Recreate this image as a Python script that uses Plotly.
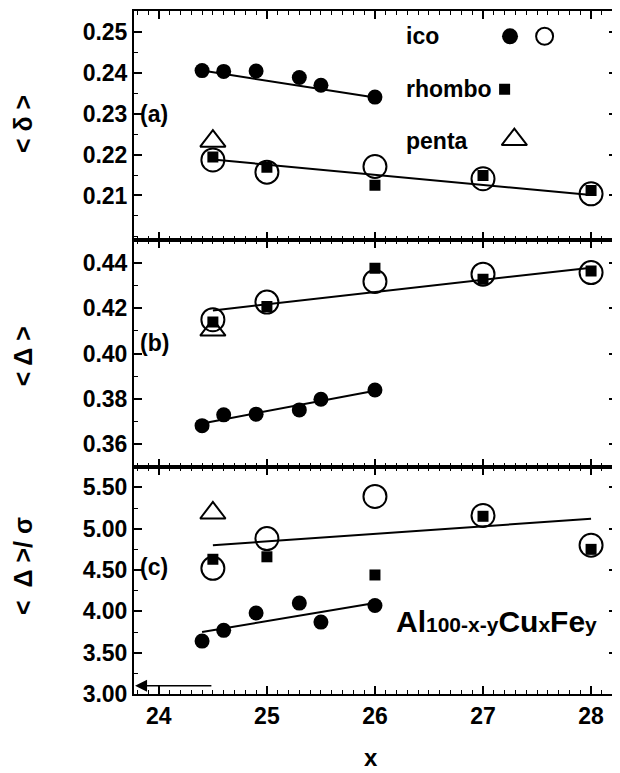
import plotly.graph_objects as go
from plotly.subplots import make_subplots

# ---------------- data ----------------
x_ico = [24.4, 24.6, 24.9, 25.3, 25.5, 26.0]        # filled "ico" samples
x_set = [24.5, 25.0, 26.0, 27.0, 28.0]              # open ico / rhombo samples
x_penta = [24.5]
fit_ico_x = [24.4, 26.0]
fit_open_x = [24.5, 28.0]

# panel (a)  <delta>
a_ico = [0.2406, 0.2404, 0.2405, 0.2389, 0.2370, 0.2341]
a_open = [0.2187, 0.2157, 0.2171, 0.2141, 0.2104]
a_rhombo = [0.2194, 0.2169, 0.2125, 0.2149, 0.2112]
a_penta = [0.2233]
a_fit_ico = [0.2406, 0.2340]
a_fit_open = [0.2188, 0.2101]

# panel (b)  <Delta>
b_ico = [0.3680, 0.3728, 0.3731, 0.3750, 0.3797, 0.3838]
b_open = [0.4150, 0.4228, 0.4320, 0.4352, 0.4359]
b_rhombo = [0.4140, 0.4209, 0.4378, 0.4330, 0.4366]
b_penta = [0.4104]
b_fit_ico = [0.3690, 0.3835]
b_fit_open = [0.4191, 0.4381]

# panel (c)  <Delta>/sigma
c_ico = [3.64, 3.77, 3.98, 4.10, 3.87, 4.07]
c_open = [4.52, 4.88, 5.39, 5.16, 4.80]
c_rhombo = [4.63, 4.66, 4.44, 5.15, 4.75]
c_penta = [5.19]
c_fit_ico = [3.75, 4.10]
c_fit_open = [4.80, 5.12]

# tick labels
x_ticks = [24, 25, 26, 27, 28]
a_ticks = [0.21, 0.22, 0.23, 0.24, 0.25]
b_ticks = [0.36, 0.38, 0.40, 0.42, 0.44]
c_ticks = [3.0, 3.5, 4.0, 4.5, 5.0, 5.5]

legend_labels = ["ico", "rhombo", "penta"]
panel_labels = ["(a)", "(b)", "(c)"]
y_titles = ["&lt; δ &gt;", "&lt; Δ &gt;", "&lt;  Δ &gt;/ σ"]
x_title = "x"
alloy_label = ("Al<span style='font-size:21px'>100-x-y</span>Cu"
               "<span style='font-size:21px'>x</span>Fe<span style='font-size:21px'>y</span>")

# ---------------- figure ----------------
FONT = "Liberation Sans, Arial, sans-serif"
fig = make_subplots(rows=3, cols=1, shared_xaxes=True, vertical_spacing=0)

panels = [
    (1, a_ico, a_open, a_rhombo, a_penta, a_fit_ico, a_fit_open),
    (2, b_ico, b_open, b_rhombo, b_penta, b_fit_ico, b_fit_open),
    (3, c_ico, c_open, c_rhombo, c_penta, c_fit_ico, c_fit_open),
]
line_style = dict(color="black", width=2)
for row, ico, opn, rho, pen, fi, fo in panels:
    fig.add_trace(go.Scatter(x=fit_ico_x, y=fi, mode="lines", line=line_style), row=row, col=1)
    fig.add_trace(go.Scatter(x=fit_open_x, y=fo, mode="lines", line=line_style), row=row, col=1)
    fig.add_trace(go.Scatter(x=x_set, y=rho, mode="markers",
                             marker=dict(symbol="square", size=11, color="black")), row=row, col=1)
    fig.add_trace(go.Scatter(x=x_set, y=opn, mode="markers",
                             marker=dict(symbol="circle-open", size=23, color="black",
                                         line=dict(width=2, color="black"))), row=row, col=1)
    fig.add_trace(go.Scatter(x=x_penta, y=pen, mode="markers",
                             marker=dict(symbol="triangle-up-open", size=22, color="black",
                                         line=dict(width=2, color="black"))), row=row, col=1)
    fig.add_trace(go.Scatter(x=x_ico, y=ico, mode="markers",
                             marker=dict(symbol="circle", size=15, color="black")), row=row, col=1)

# legend keys (layout positions inside panel a)
leg_x_text = 26.27
leg_y = [0.2490, 0.2360, 0.2233]
fig.add_trace(go.Scatter(x=[27.25], y=[leg_y[0]], mode="markers",
                         marker=dict(symbol="circle", size=16, color="black")), row=1, col=1)
fig.add_trace(go.Scatter(x=[27.57], y=[leg_y[0]], mode="markers",
                         marker=dict(symbol="circle-open", size=17, color="black",
                                     line=dict(width=2, color="black"))), row=1, col=1)
fig.add_trace(go.Scatter(x=[27.20], y=[leg_y[1]], mode="markers",
                         marker=dict(symbol="square", size=11, color="black")), row=1, col=1)
fig.add_trace(go.Scatter(x=[27.29], y=[leg_y[2] + 0.0004], mode="markers",
                         marker=dict(symbol="triangle-up-open", size=22, color="black",
                                     line=dict(width=2, color="black"))), row=1, col=1)

tickfont = dict(family=FONT, size=23, color="black", weight="bold")
axis_common = dict(showline=True, linecolor="black", linewidth=2, mirror="ticks",
                   ticks="inside", ticklen=8, tickwidth=1.5, tickcolor="black",
                   showgrid=False, zeroline=False, tickfont=tickfont)

for i in (1, 2, 3):
    xa = "xaxis" if i == 1 else f"xaxis{i}"
    fig.layout[xa].update(range=[23.77, 28.24], tickmode="array", tickvals=x_ticks,
                          showticklabels=(i == 3), ticklabelstandoff=0,
                          minor=dict(ticks="inside", tickmode="linear", tick0=24, dtick=0.1,
                                     ticklen=4, tickwidth=1, tickcolor="black"),
                          **axis_common)

fig.update_layout(
    yaxis=dict(domain=[0.6642, 1.0], range=[0.1990, 0.2552], tickmode="array", tickvals=a_ticks,
               tickformat=".2f", ticklabelstandoff=0,
               minor=dict(ticks="inside", tickmode="linear", tick0=0, dtick=0.005,
                          ticklen=4, tickwidth=1, tickcolor="black"), **axis_common),
    yaxis2=dict(domain=[0.3328, 0.6642], range=[0.3498, 0.4502], tickmode="array", tickvals=b_ticks,
                tickformat=".2f", ticklabelstandoff=0,
                minor=dict(ticks="inside", tickmode="linear", tick0=0, dtick=0.01,
                           ticklen=4, tickwidth=1, tickcolor="black"), **axis_common),
    yaxis3=dict(domain=[0.0, 0.3328], range=[3.0, 5.75], tickmode="array", tickvals=c_ticks,
                tickformat=".2f", ticklabelstandoff=0,
                minor=dict(ticks="inside", tickmode="linear", tick0=0, dtick=0.25,
                           ticklen=4, tickwidth=1, tickcolor="black"), **axis_common),
)

annotations = []
# legend texts
for lab, yy in zip(legend_labels, leg_y):
    annotations.append(dict(x=leg_x_text, y=yy, xref="x", yref="y", text=lab, showarrow=False,
                            xanchor="left", yanchor="middle",
                            font=dict(family=FONT, size=23, color="black", weight="bold")))
# panel labels
for lab, yr, yd in zip(panel_labels, ["y domain", "y2 domain", "y3 domain"], [0.552, 0.546, 0.557]):
    annotations.append(dict(x=0.008, y=yd, xref="x domain", yref=yr, text=lab, showarrow=False,
                            xanchor="left", yanchor="middle",
                            font=dict(family=FONT, size=23, color="black", weight="bold")))
# y titles
for t, yp in zip(y_titles, [0.835, 0.495, 0.188]):
    annotations.append(dict(x=-0.231, y=yp, xref="paper", yref="paper", text=t, showarrow=False,
                            textangle=-90, xanchor="center", yanchor="middle",
                            font=dict(family=FONT, size=25, color="black", weight="bold")))
# x title
annotations.append(dict(x=0.49, y=-0.093, xref="paper", yref="paper", text=x_title, showarrow=False,
                        xanchor="center", yanchor="middle",
                        font=dict(family=FONT, size=24, color="black", weight="bold")))
# alloy label
annotations.append(dict(x=0.75, y=0.32, xref="x3 domain", yref="y3 domain", text=alloy_label,
                        showarrow=False, xanchor="center", yanchor="middle",
                        font=dict(family=FONT, size=30, color="black", weight="bold")))
# arrow in panel c
annotations.append(dict(x=23.78, y=3.10, xref="x3", yref="y3", ax=24.5, ay=3.10,
                        axref="x3", ayref="y3", text="", showarrow=True,
                        arrowhead=2, arrowsize=1.6, arrowwidth=1.5, arrowcolor="black"))

# the page body adds an 8px offset, so the figure is 8px smaller and margins compensate
fig.update_layout(
    annotations=annotations,
    width=612, height=765,
    margin=dict(l=126, r=2, t=1, b=79),
    showlegend=False,
    plot_bgcolor="white", paper_bgcolor="white",
)

fig.write_html("out.html")
